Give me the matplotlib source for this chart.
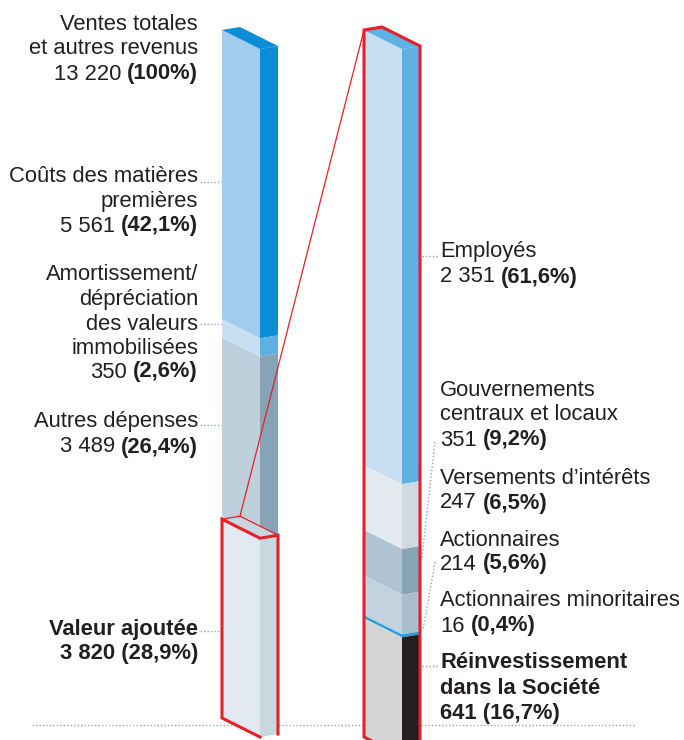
import matplotlib
matplotlib.use("Agg")
import matplotlib.pyplot as plt
from matplotlib.patches import Polygon

plt.rcParams['font.family'] = ['Liberation Sans', 'DejaVu Sans']

# ---------------- data ----------------
left_names = ["Coûts des matières premières", "Amortissement/dépréciation", "Autres dépenses", "Valeur ajoutée"]
left_values = [5561, 350, 3489, 3820]
left_total = 13220
left_pcts = ["42,1%", "2,6%", "26,4%", "28,9%"]

right_names = ["Employés", "Gouvernements centraux et locaux", "Versements d’intérêts",
               "Actionnaires", "Actionnaires minoritaires", "Réinvestissement dans la Société"]
right_values = [2351, 351, 247, 214, 16, 641]
right_total = 3820
right_pcts = ["61,6%", "9,2%", "6,5%", "5,6%", "0,4%", "16,7%"]

# ---------------- style ----------------
left_front = ['#a4cded', '#c9e0f4', '#bdd0dc', '#e3e9f0']
left_side = ['#0b8ed5', '#5cb0e4', '#87a4b7', '#c9d7e1']
right_front = ['#c6ddf2', '#e4e9f0', '#afc3d2', '#c2d2de', '#2c9bd9', '#d5d5d5']
right_side = ['#5cb0e4', '#cdd9e3', '#88a4b7', '#a9bfce', '#2c9bd9', '#231f20']
RED = '#e5202a'
TXT = '#231f20'
LEAD = '#8ea8bb'
FS = 15.8

W, SLOPE, DX, DY = 38, 0.5, 18, -3   # front width, front top slope, side offset
TOP = 30
LEFT_H, RIGHT_H = 688, 707

fig = plt.figure(figsize=(6.84, 7.4), dpi=100)
ax = fig.add_axes([0, 0, 1, 1])
ax.set_xlim(0, 684)
ax.set_ylim(740, 0)
ax.axis('off')


def faces(x0, y0, y1):
    front = [(x0, y0), (x0 + W, y0 + SLOPE * W), (x0 + W, y1 + SLOPE * W), (x0, y1)]
    side = [(x0 + W, y0 + SLOPE * W), (x0 + W + DX, y0 + SLOPE * W + DY),
            (x0 + W + DX, y1 + SLOPE * W + DY), (x0 + W, y1 + SLOPE * W)]
    return front, side


def top_face(x0, y0):
    return [(x0, y0), (x0 + DX, y0 + DY), (x0 + W + DX, y0 + SLOPE * W + DY), (x0 + W, y0 + SLOPE * W)]


def column(x0, values, total, height, fronts, sides):
    scale = height / total
    y = TOP
    bounds = []
    for v, fc, sc in zip(values, fronts, sides):
        y1 = y + v * scale
        f, s = faces(x0, y, y1)
        ax.add_patch(Polygon(f, closed=True, fc=fc, ec='none', zorder=3))
        ax.add_patch(Polygon(s, closed=True, fc=sc, ec='none', zorder=3))
        bounds.append((y, y1))
        y = y1
    ax.add_patch(Polygon(top_face(x0, TOP), closed=True, fc=sides[0], ec='none', zorder=3))
    return bounds


# base dotted line
ax.plot([32, 636], [725, 725], ls=(0, (1, 1.5)), color=LEAD, lw=1, zorder=1)

LX, RX = 222, 364
lb = column(LX, left_values, left_total, LEFT_H, left_front, left_side)
rb = column(RX, right_values, right_total, RIGHT_H, right_front, right_side)

# Valeur ajoutée box
va_top, va_bot = lb[3]
tf = top_face(LX, va_top)
ax.add_patch(Polygon(tf, closed=True, fc='#c8d6e0', ec='none', zorder=4))
ax.plot([tf[0][0], tf[1][0], tf[2][0]], [tf[0][1], tf[1][1], tf[2][1]], color=RED, lw=0.9, zorder=5)
lw_thick = 2.2
ax.plot([LX + W, LX, LX, LX + W, LX + W + DX, LX + W + DX],
        [va_bot + SLOPE * W, va_bot, va_top, va_top + SLOPE * W, va_top + SLOPE * W + DY, va_bot + SLOPE * W + DY],
        color=RED, lw=lw_thick, zorder=6, solid_joinstyle='miter')

# right column outline
r_bot = rb[-1][1]
ax.plot([RX + W, RX, RX, RX + DX, RX + W + DX, RX + W + DX],
        [r_bot + SLOPE * W, r_bot, TOP, TOP + DY, TOP + SLOPE * W + DY, r_bot + SLOPE * W + DY],
        color=RED, lw=lw_thick, zorder=6, solid_joinstyle='miter')

# connector
ax.plot([RX, LX + DX], [TOP, va_top + DY], color=RED, lw=0.9, zorder=6)

# ---------------- text ----------------
fig.canvas.draw()
renderer = fig.canvas.get_renderer()


def width(s, weight='normal'):
    t = ax.text(0, 0, s, fontsize=FS, weight=weight)
    w = t.get_window_extent(renderer).width
    t.remove()
    return w


SPACE = width("a a") - width("aa")
DYT = 2  # small vertical text offset


def line(x, y, parts, ha='left'):
    y = y + DYT
    if ha == 'right':
        cur = x
        for s, wgt in reversed(parts):
            ax.text(cur, y, s, fontsize=FS, weight=wgt, ha='right', va='center', color=TXT, zorder=7)
            cur -= width(s, wgt) + SPACE
    else:
        cur = x
        for s, wgt in parts:
            ax.text(cur, y, s, fontsize=FS, weight=wgt, ha='left', va='center', color=TXT, zorder=7)
            cur += width(s, wgt) + SPACE


def fmt(v):
    return f"{v:,}".replace(",", " ")


def block(x, ys, lines_txt, value, pct, ha, bold=False):
    wgt = 'bold' if bold else 'normal'
    for yy, s in zip(ys, lines_txt):
        line(x, yy, [(s, wgt)], ha)
    if bold:
        line(x, ys[-1], [(f"{fmt(value)} ({pct})", 'bold')], ha)
    else:
        line(x, ys[-1], [(fmt(value), 'normal'), (f"({pct})", 'bold')], ha)


LT = 198
block(LT, [22, 47, 72], ["Ventes totales", "et autres revenus"], left_total, "100%", 'right')
block(LT, [175, 199, 224], ["Coûts des matières", "premières"], left_values[0], left_pcts[0], 'right')
block(LT, [272, 297, 322, 346, 370], ["Amortissement/", "dépréciation", "des valeurs", "immobilisées"],
      left_values[1], left_pcts[1], 'right')
block(LT, [420, 445], ["Autres dépenses"], left_values[2], left_pcts[2], 'right')
block(LT, [628, 652], ["Valeur ajoutée"], left_values[3], left_pcts[3], 'right', bold=True)

RT = 440
block(RT, [250, 275], ["Employés"], right_values[0], right_pcts[0], 'left')
block(RT, [389, 413, 438], ["Gouvernements", "centraux et locaux"], right_values[1], right_pcts[1], 'left')
block(RT, [477, 501], ["Versements d’intérêts"], right_values[2], right_pcts[2], 'left')
block(RT, [538, 562], ["Actionnaires"], right_values[3], right_pcts[3], 'left')
block(RT, [599, 624], ["Actionnaires minoritaires"], right_values[4], right_pcts[4], 'left')
block(RT, [661, 686, 711], ["Réinvestissement", "dans la Société"], right_values[5], right_pcts[5], 'left', bold=True)

# leaders
dot = dict(ls=(0, (1, 1.5)), color=LEAD, lw=1, zorder=2)
for yy in [182, 324, 425, 631]:
    ax.plot([200, LX], [yy, yy], **dot)
for yy in [256, 666]:
    ax.plot([RX + W + DX + 2, 438], [yy, yy], **dot)
ax.plot([435, 422], [442, 557], **dot)
ax.plot([435, 423], [562, 630], **dot)

fig.savefig("out.png", dpi=100)
